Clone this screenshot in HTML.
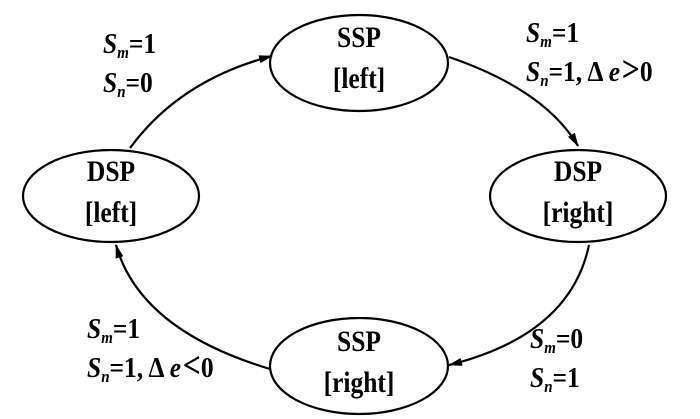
<!DOCTYPE html>
<html><head><meta charset="utf-8"><style>
html,body{margin:0;padding:0;background:#fff;}
svg{display:block;}
text{font-family:"Liberation Serif",serif;font-weight:bold;fill:#000;}
</style></head><body>
<svg width="700" height="419" viewBox="0 0 700 419" xmlns="http://www.w3.org/2000/svg">
<defs><marker id="a" markerWidth="14" markerHeight="8" refX="13" refY="4" orient="auto" markerUnits="userSpaceOnUse"><path d="M0,0 L14,4 L0,8 Z" fill="#000"/></marker></defs>
<g fill="none" stroke="#000" stroke-width="2.2">
<ellipse cx="359" cy="63" rx="89" ry="48"/>
<ellipse cx="111" cy="196" rx="88" ry="46"/>
<ellipse cx="578" cy="196" rx="88" ry="46"/>
<ellipse cx="359" cy="366" rx="89" ry="48"/>
<path d="M130,148 Q180,80 272,56" marker-end="url(#a)"/>
<path d="M449,57 Q545,90 578,146" marker-end="url(#a)"/>
<path d="M589,245 Q570,335 449,365" marker-end="url(#a)"/>
<path d="M270,369 Q140,330 116,245" marker-end="url(#a)"/>
</g>
<g font-size="30" text-anchor="middle">
<text transform="translate(359 47) scale(0.85 1)">SSP</text><text transform="translate(359 88) scale(0.85 1)">[left]</text>
<text transform="translate(111 181) scale(0.85 1)">DSP</text><text transform="translate(111 222) scale(0.85 1)">[left]</text>
<text transform="translate(578 181) scale(0.85 1)">DSP</text><text transform="translate(578 222) scale(0.85 1)">[right]</text>
<text transform="translate(359 351) scale(0.85 1)">SSP</text><text transform="translate(359 392) scale(0.85 1)">[right]</text>
</g>
<g font-size="29">
<text transform="translate(103 53) scale(0.88 1)"><tspan font-style="italic">S</tspan><tspan font-style="italic" font-size="17" dy="5">m</tspan><tspan dy="-5">=1</tspan></text>
<text transform="translate(103 92) scale(0.88 1)"><tspan font-style="italic">S</tspan><tspan font-style="italic" font-size="17" dy="5">n</tspan><tspan dy="-5">=0</tspan></text>
<text transform="translate(526 42) scale(0.88 1)"><tspan font-style="italic">S</tspan><tspan font-style="italic" font-size="17" dy="5">m</tspan><tspan dy="-5">=1</tspan></text>
<text transform="translate(526 81) scale(0.88 1)"><tspan font-style="italic">S</tspan><tspan font-style="italic" font-size="17" dy="5">n</tspan><tspan dy="-5">=1,</tspan><tspan dx="6">Δ</tspan><tspan font-style="italic" dx="6">e</tspan><tspan font-size="36" dx="2">&gt;</tspan><tspan>0</tspan></text>
<text transform="translate(87 338) scale(0.88 1)"><tspan font-style="italic">S</tspan><tspan font-style="italic" font-size="17" dy="5">m</tspan><tspan dy="-5">=1</tspan></text>
<text transform="translate(87 377) scale(0.88 1)"><tspan font-style="italic">S</tspan><tspan font-style="italic" font-size="17" dy="5">n</tspan><tspan dy="-5">=1,</tspan><tspan dx="6">Δ</tspan><tspan font-style="italic" dx="6">e</tspan><tspan font-size="36" dx="2">&lt;</tspan><tspan>0</tspan></text>
<text transform="translate(530 348) scale(0.88 1)"><tspan font-style="italic">S</tspan><tspan font-style="italic" font-size="17" dy="5">m</tspan><tspan dy="-5">=0</tspan></text>
<text transform="translate(530 387) scale(0.88 1)"><tspan font-style="italic">S</tspan><tspan font-style="italic" font-size="17" dy="5">n</tspan><tspan dy="-5">=1</tspan></text>
</g>
</svg>
</body></html>
